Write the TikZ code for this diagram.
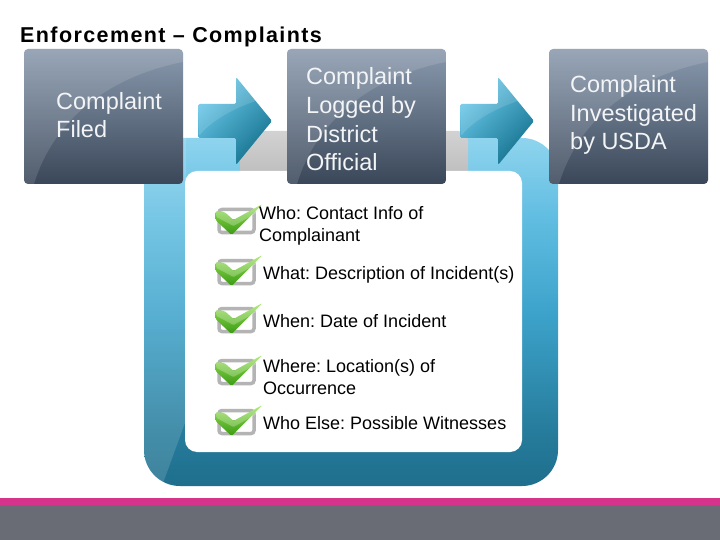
\documentclass[tikz,border=0pt]{standalone}
\usepackage{fontspec}
\setmainfont{Liberation Sans}
\usetikzlibrary{calc}
\frenchspacing
\definecolor{boxtop}{HTML}{8A9AAE}
\definecolor{boxbot}{HTML}{3A4759}
\definecolor{arrlight}{HTML}{6CCAEC}
\definecolor{arrdark}{HTML}{15728E}
\definecolor{frT}{HTML}{8FD4EE}
\definecolor{frM2}{HTML}{62BEE2}
\definecolor{frM}{HTML}{3DA3CB}
\definecolor{frB2}{HTML}{267C9C}
\definecolor{frB}{HTML}{1F6E8D}
\definecolor{tabT}{HTML}{D2D2D2}
\definecolor{tabB}{HTML}{B2B2B2}
\definecolor{checkgrey}{HTML}{B4B4B4}
\definecolor{chkT}{HTML}{9BE35A}
\definecolor{chkB}{HTML}{3A9912}
\definecolor{pinkbar}{HTML}{D6338A}
\definecolor{greybar}{HTML}{6A6C75}
\definecolor{boxtext}{HTML}{F2F4F6}
\pgfdeclareverticalshading{framesh}{100bp}{color(0bp)=(frB); color(25bp)=(frB); color(33bp)=(frB2); color(50bp)=(frM); color(64bp)=(frM2); color(75bp)=(frT); color(100bp)=(frT)}
\begin{document}
\begin{tikzpicture}[x=1pt,y=-1pt,
  stepbox/.style={rectangle, rounded corners=4pt, minimum width=159pt, minimum height=135pt, inner sep=0pt, top color=boxtop, bottom color=boxbot},
  btxt/.style={anchor=base west, align=left, inner sep=0pt, text=boxtext, font=\fontsize{23.5}{28.7}\selectfont},
  ctxt/.style={anchor=base west, align=left, inner sep=0pt, text=black, font=\fontsize{18}{22}\selectfont},
  blockarrow/.style={top color=arrlight, bottom color=arrdark, shading angle=45, rounded corners=1.5pt},
  checkicon/.pic={
    \draw[line width=3.5pt, draw=checkgrey, fill=white, rounded corners=3pt] (-17.5,-11.5) rectangle (17.5,11.5);
    \shade[top color=chkT, bottom color=chkB, rounded corners=1.5pt] (-21,-10) -- (-12,-9) -- (-3,-1) -- (26,-17) -- (-5,14) -- (-21,-1) -- cycle;
    \fill[white, opacity=.25, rounded corners=1pt] (-21,-10) -- (-12,-9) -- (-3,-1) -- (26,-17) -- (20,-8) -- (-3,5) -- (-20,-4) -- cycle;
  }
]
\useasboundingbox (0,0) rectangle (720,540);
\fill[white] (0,0) rectangle (720,540);

% blue frame
\path[shading=framesh, rounded corners=36pt] (144,138) rectangle (558,486);
\begin{scope}
  \clip[rounded corners=36pt] (144,138) rectangle (558,486);
  \fill[white, opacity=.14] (144,138) -- (186,138) -- (186,420) -- (162,486) -- (144,486) -- cycle;
\end{scope}

% grey tab
\shade[top color=tabT, bottom color=tabB, rounded corners=10pt] (240,131) rectangle (468,200);

% white panel
\fill[white, rounded corners=12pt] (185,171) rectangle (522,452);

% block arrows
\foreach \dx in {0,262} {
  \shade[blockarrow] (198+\dx,104) -- (236+\dx,104) -- (236+\dx,77) -- (272+\dx,121) -- (236+\dx,165) -- (236+\dx,138) -- (198+\dx,138) -- cycle;
  \fill[white, opacity=.13, rounded corners=1.5pt] (198+\dx,104) -- (236+\dx,104) -- (236+\dx,77) -- (256+\dx,101) .. controls (235+\dx,108) and (212+\dx,120) .. (199+\dx,136) -- cycle;
}

% step boxes
\foreach \dx/\nm in {0/b1, 263/b2, 525/b3} {
  \node[stepbox] (\nm) at (103.5+\dx,116.5) {};
  \begin{scope}
    \clip[rounded corners=4pt] (\nm.north west) rectangle (\nm.south east);
    \fill[white, opacity=.12] (24+\dx,49) -- (183+\dx,49) -- (183+\dx,62) .. controls (115+\dx,75) and (55+\dx,115) .. (34+\dx,184) -- (24+\dx,184) -- cycle;
  \end{scope}
}
% multi-line nodes: base anchor is the last line's baseline
\node[btxt] (t1) at (56,138) {Complaint\\Filed};
\node[btxt] (t2) at (306,171) {Complaint\\Logged by\\District\\Official};
\node[btxt] (t3) at (570,150) {Complaint\\Investigated\\by USDA};

% checklist
\foreach \cy in {221,272,320,372,422} {
  \pic at (236.5,\cy) {checkicon};
}
\node[ctxt] (c1) at (259,241) {Who: Contact Info of\\Complainant};
\node[ctxt] (c2) at (263,279) {What: Description of Incident(s)};
\node[ctxt] (c3) at (263,327) {When: Date of Incident};
\node[ctxt] (c4) at (263,394) {Where: Location(s) of\\Occurrence};
\node[ctxt] (c5) at (263,429) {Who Else: Possible Witnesses};

% title
\node[anchor=base west, inner sep=0pt, font=\bfseries\fontsize{21.5}{25}\selectfont\addfontfeature{LetterSpace=6.5}] (title) at (20,43) {Enforcement – Complaints};

% bottom bar
\fill[pinkbar] (0,498) rectangle (720,505);
\fill[greybar] (0,505) rectangle (720,540);
\end{tikzpicture}
\end{document}
